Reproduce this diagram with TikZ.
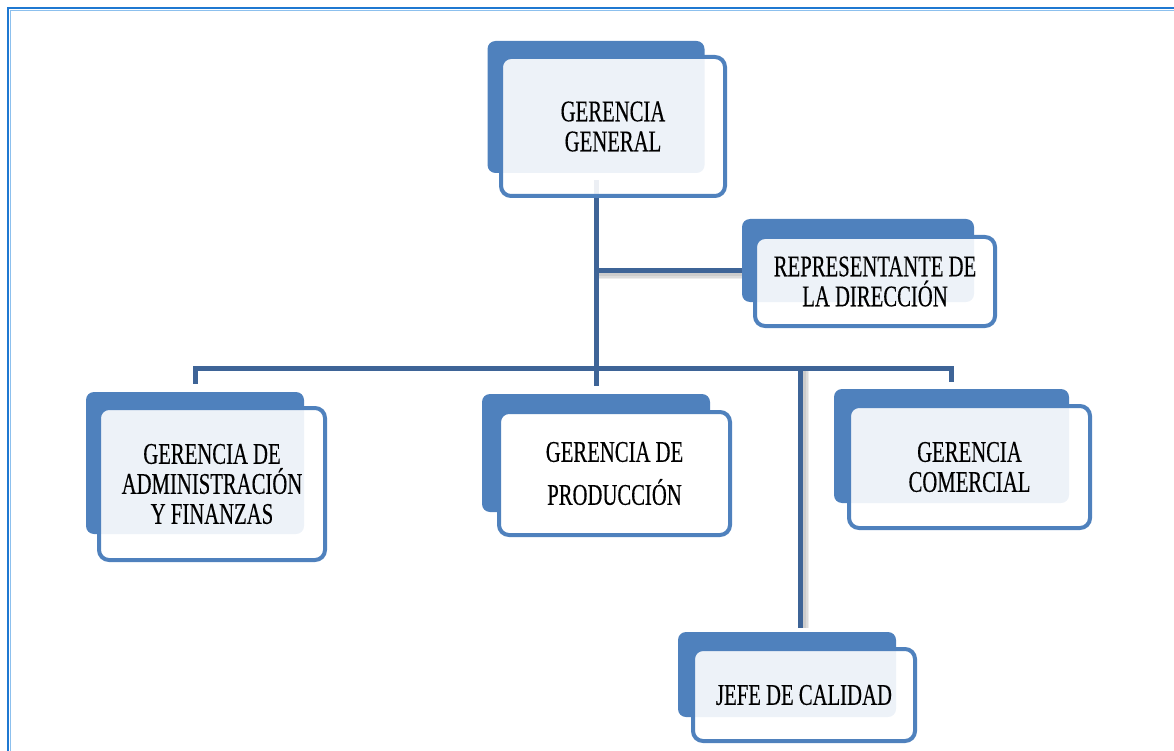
\documentclass[tikz,border=0pt]{standalone}
\usepackage{fontspec}
\setmainfont{Liberation Serif}[FakeStretch=0.69, FakeBold=0.3]
\usetikzlibrary{backgrounds}
\definecolor{boxblue}{HTML}{4F81BD}
\definecolor{linkblue}{HTML}{3E6497}
\definecolor{framebl}{HTML}{1F78D1}
\definecolor{framelt}{HTML}{8CC0EE}
\tikzset{
  backbox/.style={fill=boxblue, rounded corners=8pt, inner sep=0pt},
  frontbox/.style={draw=boxblue, line width=4pt, fill=white, fill opacity=0.9,
    draw opacity=1, text opacity=1, rounded corners=10pt, inner sep=0pt,
    align=center, text=black, font=\fontsize{30}{30}\selectfont},
  solidfront/.style={frontbox, fill opacity=1},
  link/.style={draw=linkblue, line width=5pt},
  linkshade/.style={draw=black, opacity=0.07},
}
\begin{document}
\begin{tikzpicture}[x=1pt, y=-1pt]
\useasboundingbox (0,0) rectangle (1174,751);

% page frame
\draw[framebl, line width=2.4pt] (8,751) -- (8,8) -- (1174,8);
\draw[framelt, line width=0.8pt] (10.2,751) -- (10.2,10.2) -- (1174,10.2);

% back plates
\node[backbox, minimum width=217pt, minimum height=132pt] (gg-back)   at (596,107) {};
\node[backbox, minimum width=232pt, minimum height=83pt]  (rep-back)  at (858,260.5) {};
\node[backbox, minimum width=218pt, minimum height=142pt] (adm-back)  at (195,463) {};
\node[backbox, minimum width=228pt, minimum height=118pt] (prod-back) at (596,453) {};
\node[backbox, minimum width=235pt, minimum height=114pt] (com-back)  at (951.5,446) {};
\node[backbox, minimum width=218pt, minimum height=85pt]  (jefe-back) at (787,674.5) {};

% front cards with titles
\node[frontbox, minimum width=224pt, minimum height=139pt] (gg) at (613,126.5)
  {GERENCIA\\GENERAL};
\node[frontbox, minimum width=240pt, minimum height=89pt] (rep) at (875,281.5)
  {REPRESENTANTE DE\\LA DIRECCIÓN};
\node[frontbox, minimum width=226pt, minimum height=152pt] (adm) at (212,484)
  {GERENCIA DE\\ADMINISTRACIÓN\\Y FINANZAS};
\node[solidfront, minimum width=231pt, minimum height=123pt,
      font=\fontsize{30}{43}\selectfont] (prod) at (614.5,473.5)
  {GERENCIA DE\\PRODUCCIÓN};
\node[frontbox, minimum width=241pt, minimum height=122pt] (com) at (969.5,467)
  {GERENCIA\\COMERCIAL};
\node[frontbox, minimum width=222pt, minimum height=92pt] (jefe) at (804,695)
  {JEFE DE CALIDAD};

% connectors
\coordinate (bus-y)    at (0,368);
\coordinate (trunk-top) at ([yshift=-7pt]gg-back.south);
\coordinate (trunk-end) at ([yshift=8pt]prod-back.north);
\coordinate (rep-j)    at (596,270);
\coordinate (jefe-j)   at (800,368);
\coordinate (jefe-top) at ([yshift=4pt]jefe-back.north);

\begin{pgfonlayer}{background}
  % soft shadows under the side branches
  \foreach \w in {10,7,4}{
    \draw[linkshade, line width=\w pt] ([xshift=2pt,yshift=-4pt]rep-j)
      -- ([yshift=-4pt]rep-back.west |- rep-j);
    \draw[linkshade, line width=\w pt] ([xshift=4pt,yshift=-2pt]jefe-j)
      -- ([xshift=4pt]jefe-j |- jefe-top);
  }
  % trunk and branches
  \draw[link] (trunk-top) -- (trunk-end);
  \draw[link] (rep-j) -- (rep-back.west |- rep-j);
  \draw[link] ([yshift=8pt]adm-back.north) |- (bus-y -| com-back.north)
              -- ([yshift=7pt]com-back.north);
  \draw[link] (jefe-j) -- (jefe-j |- jefe-top);
\end{pgfonlayer}
\end{tikzpicture}
\end{document}
